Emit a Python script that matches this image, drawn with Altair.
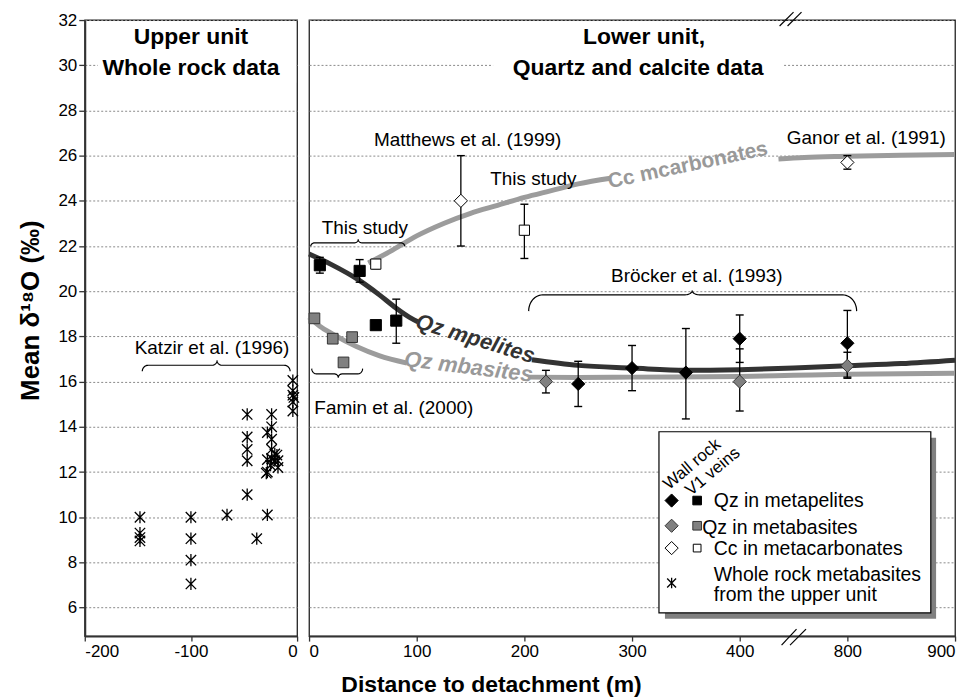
import altair as alt
import pandas as pd
import numpy as np

FONT = "Liberation Sans"
YMIN, YMAX = 4.74, 32.0
LW, RW, H = 213, 648, 618          # panel plot sizes (px)
YTICKS = list(range(6, 34, 2))

# ---------------- data ----------------
# Upper unit, whole rock metabasites (Katzir et al. 1996)
katzir_x = [-148, -148, -148, -148, -100, -100, -100, -100, -66,
            -47, -47, -47, -47, -47, -38, -28, -28, -28, -28, -29,
            -24, -24, -24, -24, -24, -25, -21, -21, -19, -18, -18,
            -4, -4, -4, -4, -4, -3]
katzir_y = [10.0, 9.3, 9.1, 8.95, 10.0, 9.05, 8.1, 7.05, 10.1,
            14.55, 13.55, 13.0, 12.5, 11.0, 9.05, 10.1, 13.75, 12.55, 12.0, 11.95,
            14.55, 14.0, 13.45, 13.0, 12.6, 12.3, 12.8, 12.5, 12.75, 12.2, 12.5,
            16.05, 15.6, 15.4, 15.1, 14.7, 15.3]

# Lower unit: V1 veins (squares)
qzp_vein_x = [10, 47, 62, 81]
qzp_vein_y = [21.15, 20.9, 18.5, 18.7]
qzp_vein_lo = [20.8, 20.4, 18.35, 17.7]
qzp_vein_hi = [21.5, 21.4, 18.65, 19.65]

qzb_vein_x = [5, 22, 32, 40]
qzb_vein_y = [18.8, 17.9, 16.85, 17.97]
qzb_vein_lo = [18.65, 17.75, 16.7, 17.82]
qzb_vein_hi = [18.95, 18.05, 17.0, 18.12]

cc_vein_x = [62, 200]
cc_vein_y = [21.2, 22.7]
cc_vein_lo = [21.0, 21.45]
cc_vein_hi = [21.35, 23.85]

# Lower unit: wall rock (diamonds)
qzp_wall_x = [250, 300, 350, 400, 800]
qzp_wall_y = [15.9, 16.6, 16.4, 17.9, 17.7]
qzp_wall_lo = [14.9, 15.6, 14.35, 16.85, 16.2]
qzp_wall_hi = [16.9, 17.6, 18.35, 18.95, 19.15]

qzb_wall_x = [220, 400, 800]
qzb_wall_y = [16.0, 16.0, 16.7]
qzb_wall_lo = [15.5, 14.7, 16.15]
qzb_wall_hi = [16.5, 17.45, 17.3]

cc_wall_x = [141, 800]
cc_wall_y = [24.0, 25.7]
cc_wall_lo = [22.0, 25.4]
cc_wall_hi = [26.0, 26.0]

# Trend curves (two segments each, interrupted by their labels)
cc_curve_a_x = [55, 75, 100, 125, 150, 175, 200, 225, 250, 280]
cc_curve_a_y = [21.25, 21.75, 22.45, 23.0, 23.45, 23.8, 24.15, 24.45, 24.75, 25.0]
cc_curve_b_x = [544, 640, 800, 850, 900]
cc_curve_b_y = [25.85, 25.92, 25.97, 26.02, 26.05]

pel_curve_a_x = [0, 20, 46, 65, 81, 95, 101]
pel_curve_a_y = [21.65, 21.2, 20.5, 19.85, 19.25, 18.8, 18.65]
pel_curve_b_x = [207, 250, 300, 350, 400, 600, 800, 850, 900]
pel_curve_b_y = [16.97, 16.72, 16.6, 16.5, 16.53, 16.6, 16.7, 16.8, 16.95]

bas_curve_a_x = [0, 10, 22, 44, 65, 91]
bas_curve_a_y = [18.85, 18.45, 18.1, 17.55, 17.15, 16.82]
bas_curve_b_x = [204, 250, 300, 400, 600, 800, 900]
bas_curve_b_y = [16.2, 16.18, 16.2, 16.23, 16.28, 16.33, 16.37]

X_TICK_POS = [0, 100, 200, 300, 400, 500, 600]


# ---------------- helpers ----------------
def to_pos(m):
    """distance (m) -> position on the broken axis"""
    if m <= 400:
        return m
    if m >= 800:
        return m - 300
    return 400 + (m - 400) / 4.0


def rpx(px):   # right panel pixel -> axis position
    return px * 600.0 / RW


def lpx(px):   # left panel pixel -> m
    return -200 + px * 200.0 / LW


def ypx(p):    # pixel from top -> value
    return YMAX - p * (YMAX - YMIN) / H


def brace_px(x0, x1, xt, v_end, v_mid, v_tip, re, rt, n=14):
    t = np.linspace(0, np.pi / 2, n)
    pts = []
    pts += [(x0 + re - re * np.cos(a), v_end + (v_mid - v_end) * np.sin(a)) for a in t]
    pts += [(xt - rt + rt * np.sin(a), v_mid + (v_tip - v_mid) * (1 - np.cos(a))) for a in t]
    pts += [(xt + rt - rt * np.cos(a), v_tip + (v_mid - v_tip) * np.sin(a)) for a in t]
    pts += [(x1 - re + re * np.sin(a), v_mid + (v_end - v_mid) * (1 - np.cos(a))) for a in t]
    return pts


xs_left = alt.Scale(domain=[-200, 0], nice=False, zero=False)
xs_right = alt.Scale(domain=[0, 600], nice=False, zero=False)
ys = alt.Scale(domain=[YMIN, YMAX], nice=False, zero=False)

STAR = "M0,-1L0,1M-0.85,-0.85L0.85,0.85M-0.85,0.85L0.85,-0.85"
CAP = "M-1,0L1,0"


def XR(field="x"):
    return alt.X(f"{field}:Q", scale=xs_right, axis=None)


def XL(field="x"):
    return alt.X(f"{field}:Q", scale=xs_left, axis=None)


def Y(field="y"):
    return alt.Y(f"{field}:Q", scale=ys, axis=None)


def texts(rows, X, **kw):
    df = pd.DataFrame(rows, columns=["x", "y", "t"])
    base = dict(font=FONT, baseline="middle", color="black")
    base.update(kw)
    return alt.Chart(df).mark_text(**base).encode(x=X(), y=Y(), text="t:N")


# ---------------- left panel ----------------
stars_df = pd.DataFrame({"x": katzir_x, "y": katzir_y})
left_axes = alt.Chart(stars_df).mark_point(
    shape=STAR, filled=False, stroke="black", strokeWidth=1.3, size=150, opacity=1
).encode(
    x=alt.X("x:Q", scale=xs_left, axis=alt.Axis(
        values=[-200, -100, 0], labelExpr="'' + datum.value", title=None, grid=False,
        tickSize=5, labelPadding=2)),
    y=alt.Y("y:Q", scale=ys, axis=alt.Axis(
        values=YTICKS, title="Mean δ¹⁸O (‰)", grid=True, tickSize=6, labelPadding=2,
        titleFontSize=26, titleFontWeight="bold", titlePadding=14, titleY=291)),
)

left_white = alt.Chart(pd.DataFrame({"x": [lpx(13)], "x2": [lpx(212)],
                                     "y": [ypx(3)], "y2": [ypx(63)]})).mark_rect(
    fill="white").encode(x=XL(), x2="x2:Q", y=Y(), y2="y2:Q")

kz = brace_px(57.7, 206, 132.7, 352.3, 346.3, 341.3, 6, 5)
kz_df = pd.DataFrame({"x": [lpx(p[0]) for p in kz], "y": [ypx(p[1]) for p in kz],
                      "i": range(len(kz))})
left_brace = alt.Chart(kz_df).mark_line(color="black", strokeWidth=1.2).encode(
    x=XL(), y=Y(), order="i:Q")

left_titles = texts([(lpx(106.5), ypx(17), "Upper unit"),
                     (lpx(106.5), ypx(48), "Whole rock data")], XL,
                    fontSize=23, fontWeight="bold", align="center")
left_notes = texts([(lpx(127.7), ypx(329), "Katzir et al. (1996)")], XL,
                   fontSize=19, align="center")

left = alt.layer(left_axes, left_white, left_brace, left_titles, left_notes).resolve_axis(
    x="independent", y="independent").properties(width=LW, height=H)

# ---------------- right panel ----------------
groups = [
    (qzp_vein_x, qzp_vein_y, qzp_vein_lo, qzp_vein_hi, "square", "black", "black", 125),
    (qzb_vein_x, qzb_vein_y, qzb_vein_lo, qzb_vein_hi, "square", "#808080", "#333333", 115),
    (cc_vein_x, cc_vein_y, cc_vein_lo, cc_vein_hi, "square", "white", "black", 105),
    (qzp_wall_x, qzp_wall_y, qzp_wall_lo, qzp_wall_hi, "diamond", "black", "black", 175),
    (qzb_wall_x, qzb_wall_y, qzb_wall_lo, qzb_wall_hi, "diamond", "#808080", "#333333", 175),
    (cc_wall_x, cc_wall_y, cc_wall_lo, cc_wall_hi, "diamond", "white", "black", 175),
]
rows = []
for xs_, ys_, lo_, hi_, shp, fil, stk, sz in groups:
    for a, b, c, d in zip(xs_, ys_, lo_, hi_):
        rows.append(dict(x=to_pos(a), y=b, lo=c, hi=d, shape=shp, fill=fil, stroke=stk, size=sz))
pts = pd.DataFrame(rows)

curve_rows = []
for name, col, segs in [
    ("cc", "#9c9c9c", [(cc_curve_a_x, cc_curve_a_y), (cc_curve_b_x, cc_curve_b_y)]),
    ("bas", "#9c9c9c", [(bas_curve_a_x, bas_curve_a_y), (bas_curve_b_x, bas_curve_b_y)]),
    ("pel", "#333333", [(pel_curve_a_x, pel_curve_a_y), (pel_curve_b_x, pel_curve_b_y)]),
]:
    for k, (cx, cy) in enumerate(segs):
        for i, (a, b) in enumerate(zip(cx, cy)):
            curve_rows.append(dict(x=to_pos(a), y=b, seg=f"{name}{k}", col=col, i=i))
curves = pd.DataFrame(curve_rows)

grid_base = alt.Chart(pd.DataFrame({"x": [0], "y": [YMIN]})).mark_point(opacity=0).encode(
    x=alt.X("x:Q", scale=xs_right, axis=alt.Axis(
        values=X_TICK_POS, labelExpr="datum.value > 400 ? '' + (datum.value + 300) : '' + datum.value",
        title=None, grid=False, tickSize=5, labelPadding=2)),
    y=alt.Y("y:Q", scale=ys, axis=alt.Axis(values=YTICKS, labels=False, ticks=False,
                                           domain=False, grid=True, title=None)),
)

right_white = alt.Chart(pd.DataFrame({"x": [rpx(184.6)], "x2": [rpx(475.6)],
                                      "y": [ypx(3)], "y2": [ypx(63)]})).mark_rect(
    fill="white").encode(x=XR(), x2="x2:Q", y=Y(), y2="y2:Q")

curve_layer = alt.Chart(curves).mark_line(strokeWidth=5, interpolate="monotone").encode(
    x=XR(), y=Y(), detail="seg:N", order="i:Q", color=alt.Color("col:N", scale=None))

brace_rows = []
for bid, args in enumerate([
    (1.7, 96, 49.3, 227, 223.5, 220, 4, 4),
    (2.7, 53.7, 29.3, 349.7, 355, 358.7, 5, 4),
    (220.3, 549.3, 384.3, 292, 275.7, 271.3, 14, 8),
]):
    for i, (u, v) in enumerate(brace_px(*args)):
        brace_rows.append(dict(x=rpx(u), y=ypx(v), b=bid, i=i))
braces = alt.Chart(pd.DataFrame(brace_rows)).mark_line(color="black", strokeWidth=1.2).encode(
    x=XR(), y=Y(), detail="b:N", order="i:Q")

err_rule = alt.Chart(pts).mark_rule(color="black", strokeWidth=1.3).encode(
    x=XR(), y=Y("lo"), y2="hi:Q")
cap_lo = alt.Chart(pts).mark_point(shape=CAP, filled=False, stroke="black", strokeWidth=1.4,
                                   size=64, opacity=1).encode(x=XR(), y=Y("lo"))
cap_hi = alt.Chart(pts).mark_point(shape=CAP, filled=False, stroke="black", strokeWidth=1.4,
                                   size=64, opacity=1).encode(x=XR(), y=Y("hi"))
markers = alt.Chart(pts).mark_point(filled=True, strokeWidth=1, opacity=1).encode(
    x=XR(), y=Y(),
    shape=alt.Shape("shape:N", scale=None),
    fill=alt.Fill("fill:N", scale=None),
    stroke=alt.Stroke("stroke:N", scale=None),
    size=alt.Size("size:Q", scale=None))

right_titles = texts([(rpx(336), ypx(17), "Lower unit,"),
                      (rpx(330), ypx(48), "Quartz and calcite data")], XR,
                     fontSize=23, fontWeight="bold", align="center")
notes = texts([
    (rpx(159), ypx(120), "Matthews et al. (1999)"),
    (rpx(559), ypx(118), "Ganor et al. (1991)"),
    (rpx(225), ypx(159.7), "This study"),
    (rpx(56), ypx(209), "This study"),
    (rpx(389), ypx(257), "Bröcker et al. (1993)"),
    (rpx(85), ypx(388.7), "Famin et al. (2000)"),
], XR, fontSize=19, align="center")

lab_pel = texts([(rpx(166.7), ypx(319.7), "Qz mpelites")], XR, fontSize=22,
                fontWeight="bold", fontStyle="italic", color="#333333", align="center", angle=17)
lab_bas = texts([(rpx(160), ypx(348), "Qz mbasites")], XR, fontSize=22,
                fontWeight="bold", fontStyle="italic", color="#999999", align="center", angle=7)
lab_cc = texts([(rpx(380), ypx(146), "Cc mcarbonates")], XR, fontSize=21,
               fontWeight="bold", color="#999999", align="center", angle=348)

# legend box
shadow = alt.Chart(pd.DataFrame({"x": [rpx(357)], "x2": [rpx(629)], "y": [ypx(419)],
                                 "y2": [ypx(600.5)]})).mark_rect(fill="#808080").encode(
    x=XR(), x2="x2:Q", y=Y(), y2="y2:Q")
box = alt.Chart(pd.DataFrame({"x": [rpx(351)], "x2": [rpx(623.7)], "y": [ypx(413)],
                              "y2": [ypx(594.7)]})).mark_rect(
    fill="white", stroke="black", strokeWidth=1.2).encode(x=XR(), x2="x2:Q", y=Y(), y2="y2:Q")

leg_sym = pd.DataFrame([
    dict(x=rpx(363.7), y=ypx(482), shape="diamond", fill="black", stroke="black", size=175),
    dict(x=rpx(389.3), y=ypx(482), shape="square", fill="black", stroke="black", size=75),
    dict(x=rpx(363.7), y=ypx(507.3), shape="diamond", fill="#808080", stroke="#333333", size=175),
    dict(x=rpx(389.3), y=ypx(507.3), shape="square", fill="#808080", stroke="#333333", size=75),
    dict(x=rpx(363.7), y=ypx(529.7), shape="diamond", fill="white", stroke="black", size=175),
    dict(x=rpx(389.3), y=ypx(529.7), shape="square", fill="white", stroke="black", size=60),
])
leg_markers = alt.Chart(leg_sym).mark_point(filled=True, strokeWidth=1, opacity=1).encode(
    x=XR(), y=Y(),
    shape=alt.Shape("shape:N", scale=None),
    fill=alt.Fill("fill:N", scale=None),
    stroke=alt.Stroke("stroke:N", scale=None),
    size=alt.Size("size:Q", scale=None))
leg_star = alt.Chart(pd.DataFrame({"x": [rpx(363.7)], "y": [ypx(564.7)]})).mark_point(
    shape=STAR, filled=False, stroke="black", strokeWidth=1.3, size=110, opacity=1).encode(
    x=XR(), y=Y())
leg_text = texts([
    (rpx(406), ypx(482), "Qz in metapelites"),
    (rpx(394.3), ypx(510), "Qz in metabasites"),
    (rpx(406), ypx(530.7), "Cc in metacarbonates"),
    (rpx(406), ypx(556.3), "Whole rock metabasites"),
    (rpx(406), ypx(576.3), "from the upper unit"),
], XR, fontSize=19.5, align="left")
leg_rot = texts([
    (rpx(384.3), ypx(445.7), "Wall rock"),
    (rpx(405), ypx(453), "V1 veins"),
], XR, fontSize=17, align="center", angle=320)

# axis break marks
brk = pd.DataFrame([
    dict(x=rpx(474), y=ypx(627), x2=rpx(489), y2=ypx(611)),
    dict(x=rpx(482.5), y=ypx(627), x2=rpx(498.5), y2=ypx(611)),
    dict(x=rpx(472), y=ypx(6), x2=rpx(486), y2=ypx(-8)),
    dict(x=rpx(480), y=ypx(6), x2=rpx(494), y2=ypx(-8)),
])
breaks = alt.Chart(brk).mark_rule(color="black", strokeWidth=1.2).encode(
    x=XR(), x2="x2:Q", y=Y(), y2="y2:Q")

right = alt.layer(grid_base, right_white, curve_layer, braces, err_rule, cap_lo, cap_hi,
                  markers, right_titles, notes, lab_pel, lab_bas, lab_cc,
                  shadow, box, leg_markers, leg_star, leg_text, leg_rot, breaks).resolve_axis(
    x="independent", y="independent").properties(width=RW, height=H)

chart = alt.hconcat(left, right, spacing=12, bounds="flush").resolve_scale(
    x="independent", y="independent"
).properties(
    padding={"left": 9, "top": 1, "right": 0, "bottom": 0},
    title=alt.TitleParams("Distance to detachment (m)", orient="bottom", anchor="middle",
                          font=FONT, fontSize=23, fontWeight="bold", offset=14, color="black"),
).configure_view(stroke="#222222", strokeWidth=1.3).configure_axis(
    labelFont=FONT, labelFontSize=17, labelColor="black", titleFont=FONT, titleColor="black",
    gridColor="#8a8a8a", gridDash=[2, 2], gridWidth=1,
    domainColor="#333333", domainWidth=2, tickColor="#333333", tickWidth=1.3,
)

chart.save("out.html", embed_options={"renderer": "svg", "actions": False})
